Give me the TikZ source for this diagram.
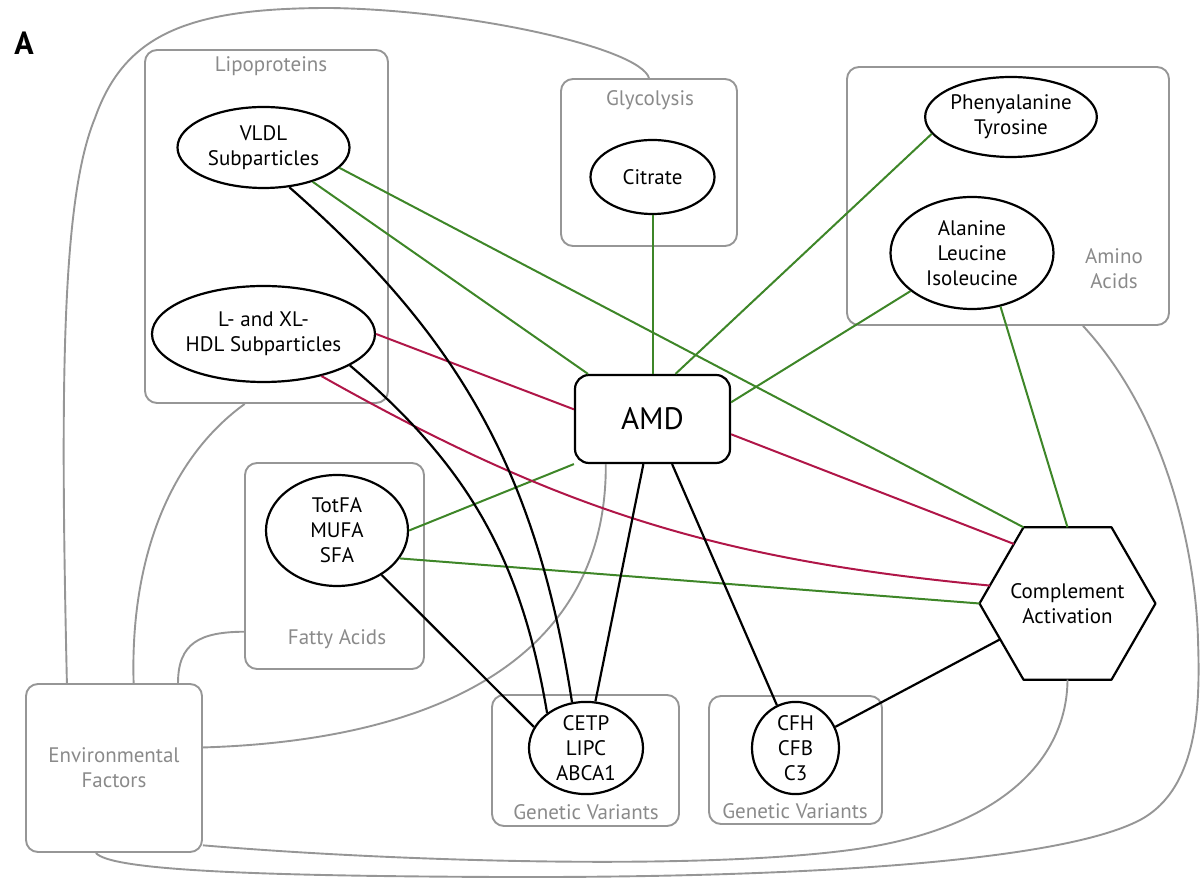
\documentclass[tikz,border=0pt]{standalone}
\usepackage{fontspec}
\setmainfont{PT Sans}
\usepackage{tikz}
\usetikzlibrary{shapes}
\definecolor{boxgray}{RGB}{150,150,150}
\definecolor{labgray}{RGB}{138,138,138}
\definecolor{linkgreen}{RGB}{62,134,40}
\definecolor{linkred}{RGB}{176,22,72}

\begin{document}
\begin{tikzpicture}[x=1pt,y=1pt,line join=round,
                    font=\fontsize{21}{25}\selectfont,
                    ell/.style={ellipse,draw,line width=2.2pt,inner sep=0pt,align=center},
                    hexa/.style={regular polygon,regular polygon sides=6,draw,line width=2.2pt,
                                 inner sep=0pt,outer sep=0pt,minimum size=176pt},
                    grp/.style={draw=boxgray,line width=1.9pt,rounded corners=12pt,inner sep=0pt},
                    grplabel/.style={text=labgray,align=center},
                    envlink/.style={draw=boxgray,line width=1.9pt},
                    poslink/.style={draw=linkgreen,line width=2pt},
                    neglink/.style={draw=linkred,line width=2pt},
                    blklink/.style={draw=black,line width=2.2pt}]
  \useasboundingbox (0,0) rectangle (1200,878);

  % groups
  \node[grp,minimum width=243pt,minimum height=353pt] (lipo)  at (266.5,651.5) {};
  \node[grplabel]                                     (lipolabel) at (271,812) {Lipoproteins};
  \node[grp,minimum width=176pt,minimum height=167pt] (glyc)  at (649,715.5) {};
  \node[grplabel]                                     (glyclabel) at (650,778) {Glycolysis};
  \node[grp,minimum width=322pt,minimum height=258pt] (amino) at (1008,682) {};
  \node[grplabel]                                     (aminolabel) at (1114,609.5) {Amino\\Acids};
  \node[grp,minimum width=179pt,minimum height=206pt] (fatty) at (334.5,312) {};
  \node[grplabel]                                     (fattylabel) at (337,239) {Fatty Acids};
  \node[grp,minimum width=187pt,minimum height=131pt] (gvone) at (585.5,117.5) {};
  \node[grplabel]                                     (gvonelabel) at (586,65.5) {Genetic Variants};
  \node[grp,minimum width=173pt,minimum height=128pt] (gvtwo) at (795.5,118) {};
  \node[grplabel]                                     (gvtwolabel) at (795,67) {Genetic Variants};
  \node[grp,grplabel,minimum width=176pt,minimum height=168pt] (env) at (114,110) {Environmental\\Factors};

  % measured nodes
  \node[ell,minimum width=172pt,minimum height=81pt]  (vldl)    at (263.5,730.5) {VLDL\\Subparticles};
  \node[ell,minimum width=223pt,minimum height=96pt]  (hdl)     at (263.5,544)   {L- and XL-\\HDL Subparticles};
  \node[ell,minimum width=124pt,minimum height=74pt]  (citrate) at (652.5,701)   {Citrate};
  \node[ell,minimum width=170pt,minimum height=80pt]  (phe)     at (1011,761)    {Phenyalanine\\Tyrosine};
  \node[ell,minimum width=163pt,minimum height=112pt] (ala)     at (972,625)     {Alanine\\Leucine\\Isoleucine};
  \node[ell,minimum width=142pt,minimum height=111pt] (tot)     at (337,347.5)   {TotFA\\MUFA\\SFA};
  \node[ell,minimum width=114pt,minimum height=90pt]  (cetp)    at (586,130)     {CETP\\LIPC\\ABCA1};
  \node[ell,minimum width=87pt,minimum height=90pt]   (cfh)     at (795.5,130)   {CFH\\CFB\\C3};
  \node[draw,line width=2.2pt,rounded corners=14pt,minimum width=155pt,minimum height=88pt,
        font=\fontsize{31}{36}\selectfont]           (amd)     at (652.5,459)   {AMD};
  \node[hexa,label={[align=center]center:Complement\\Activation}] (cact) at (1067.5,274.5) {};
  \node[font=\fontsize{32}{34}\selectfont\bfseries]   (panel)   at (24,835)      {A};

  % environment links
  \draw[envlink] (env.119) .. controls (60,500) and (62,680) .. (95,760)
                 .. controls (125,845) and (190,870) .. (330,870)
                 .. controls (470,868) and (640,830) .. (glyc.north);
  \draw[envlink] (env.77) .. controls (130,320) and (170,420) .. (lipo.263);
  \draw[envlink] (env.53) .. controls (178,235) and (200,246) .. (fatty.216);
  \draw[envlink] (env.13) .. controls (450,138) and (607,228) .. (amd.224);
  \draw[envlink] (env.-41) .. controls (400,16) and (700,8) .. (850,28)
                 .. controls (1000,48) and (1067,118) .. (cact.south);
  \draw[envlink] (env.258) .. controls (110,8) and (250,2) .. (500,1)
                 .. controls (800,0) and (1060,16) .. (1140,58)
                 .. controls (1200,90) and (1200,178) .. (1198,238)
                 .. controls (1196,318) and (1170,458) .. (amino.-60);

  % positive associations
  \path[poslink] (vldl)     edge (amd)
                 (vldl.-15) edge (cact.120)
                 (citrate)  edge (amd)
                 (phe.192)  edge (amd.63)
                 (ala)      edge (amd.12)
                 (ala.-62)  edge (cact.north)
                 (tot.east) edge (amd.south west)
                 (tot.-24)  edge (cact.west);

  % negative associations
  \path[neglink] (hdl.east) edge (amd.173)
                 (amd.-11)  edge (cact.132)
                 (hdl.-36)  edge[bend right=12] (cact.167);

  % genetic links
  \path[blklink] (vldl.-57) edge[bend left=20] (cetp.107)
                 (hdl.-20)  edge[bend left=20] (cetp.138)
                 (tot)      edge (cetp.158)
                 (amd)      edge (cetp)
                 (amd)      edge (cfh)
                 (cact)     edge (cfh);
\end{tikzpicture}
\end{document}
